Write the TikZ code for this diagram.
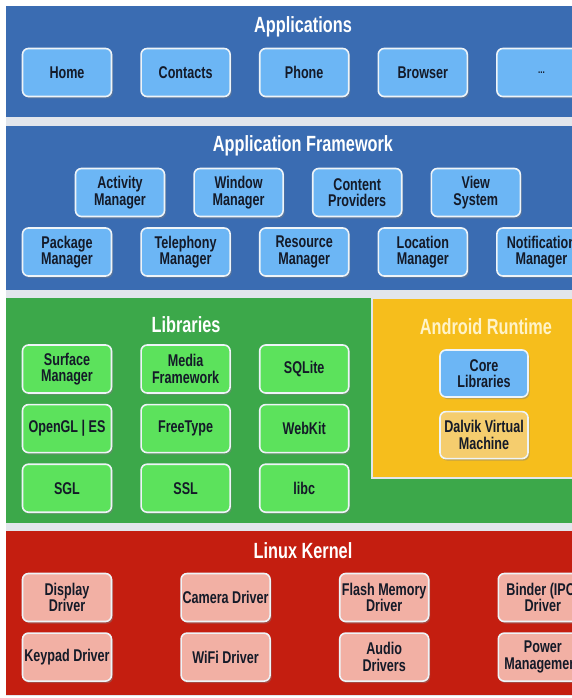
\documentclass[tikz,border=0pt]{standalone}
\usepackage{fontspec}
\setmainfont{Liberation Sans}[FakeStretch=0.74]
\usetikzlibrary{positioning,shadows}

\definecolor{bandblue}{HTML}{3A6CB2}
\definecolor{appfill}{HTML}{6CB6F5}
\definecolor{libgreen}{HTML}{3CA84A}
\definecolor{libfill}{HTML}{5CE25C}
\definecolor{rtyellow}{HTML}{F6BE1C}
\definecolor{dalvikfill}{HTML}{F5CD6E}
\definecolor{kernred}{HTML}{C41E10}
\definecolor{kernfill}{HTML}{F2B0A4}
\definecolor{gapgray}{HTML}{E2E6EC}
\definecolor{boxedge}{HTML}{EEF4F8}
\definecolor{boxtext}{HTML}{141A28}
\definecolor{rtcream}{HTML}{FFF3C8}

\begin{document}
\begin{tikzpicture}[x=1pt, y=-1pt,
  layertitle/.style={font=\fontsize{22}{22}\selectfont\bfseries, text=white},
  module/.style={draw=boxedge, line width=1.6pt, rounded corners=6pt, align=center, minimum width=89pt, minimum height=48pt, inner sep=0pt, font=\fontsize{17}{16.5}\selectfont\bfseries, text=boxtext, drop shadow={shadow xshift=1.5pt, shadow yshift=-2pt, opacity=0.45}},
  appbox/.style={module, fill=appfill},
  libbox/.style={module, fill=libfill},
  kernbox/.style={module, fill=kernfill}
]
\clip (0,0) rectangle (572,698);
\fill[white] (0,0) rectangle (572,698);

% layer bands
\fill[gapgray] (6,6) rectangle (580,696);
\fill[bandblue] (6,6) rectangle (580,117);
\fill[bandblue] (6,126) rectangle (580,290);
\fill[libgreen] (6,298) rectangle (580,523);
\filldraw[fill=rtyellow, draw=gapgray, line width=2pt] (372,298) rectangle (582,478);
\fill[kernred] (6,531) rectangle (580,695);

% Applications
\node[layertitle] (apptitle) at (303,27) {Applications};
\node[appbox] (home) at (67,72.5) {Home};
\node[appbox, right=28pt of home] (contacts) {Contacts};
\node[appbox, right=28pt of contacts] (phone) {Phone};
\node[appbox, right=28pt of phone] (browser) {Browser};
\node[appbox, right=28pt of browser] (moreapps) {\fontsize{11}{11}\selectfont ...};

% Application Framework
\node[layertitle] (fwtitle) at (303,146) {Application Framework};
\node[appbox] (actmgr) at (120,192.5) {Activity\\Manager};
\node[appbox, right=28pt of actmgr] (winmgr) {Window\\Manager};
\node[appbox, right=28pt of winmgr] (contprov) {Content\\Providers};
\node[appbox, right=28pt of contprov] (viewsys) {View\\System};
\node[appbox] (pkgmgr) at (67,252) {Package\\Manager};
\node[appbox, right=28pt of pkgmgr] (telmgr) {Telephony\\Manager};
\node[appbox, right=28pt of telmgr] (resmgr) {Resource\\Manager};
\node[appbox, right=28pt of resmgr] (locmgr) {Location\\Manager};
\node[appbox, right=28pt of locmgr] (notifmgr) {Notification\\Manager};

% Libraries
\node[layertitle] (libtitle) at (186,325) {Libraries};
\node[libbox] (surfmgr) at (67,369) {Surface\\Manager};
\node[libbox, right=28pt of surfmgr] (media) {Media\\Framework};
\node[libbox, right=28pt of media] (sqlite) {SQLite};
\node[libbox, below=10pt of surfmgr] (opengl) {OpenGL | ES};
\node[libbox, right=28pt of opengl] (freetype) {FreeType};
\node[libbox, right=28pt of freetype] (webkit) {WebKit};
\node[libbox, below=10pt of opengl] (sgl) {SGL};
\node[libbox, right=28pt of sgl] (ssl) {SSL};
\node[libbox, right=28pt of ssl] (libc) {libc};

% Android Runtime
\node[layertitle, text=rtcream] (rttitle) at (486,327) {Android Runtime};
\node[module, fill=appfill, minimum width=88pt, minimum height=47pt] (corelib) at (484,373.5) {Core\\Libraries};
\node[module, fill=dalvikfill, minimum width=88pt, minimum height=47pt, below=13pt of corelib] (dalvik) {Dalvik Virtual\\Machine};

% Linux Kernel
\node[layertitle] (kerntitle) at (303,551) {Linux Kernel};
\node[kernbox] (display) at (67,597.5) {Display\\Driver};
\node[kernbox, right=68pt of display] (camera) {Camera Driver};
\node[kernbox, right=68pt of camera] (flash) {Flash Memory\\Driver};
\node[kernbox, right=68pt of flash] (binder) {Binder (IPC)\\Driver};
\node[kernbox, below=10pt of display] (keypad) {Keypad Driver};
\node[kernbox, right=68pt of keypad] (wifi) {WiFi Driver};
\node[kernbox, right=68pt of wifi] (audio) {Audio\\Drivers};
\node[kernbox, right=68pt of audio] (power) {Power\\Management};

\end{tikzpicture}
\end{document}
